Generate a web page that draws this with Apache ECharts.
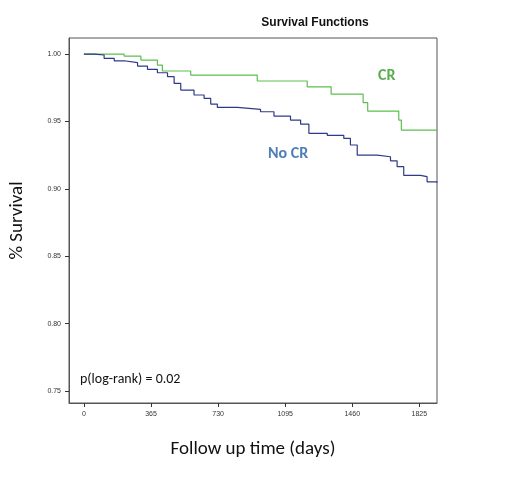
<!DOCTYPE html><html><head><meta charset="utf-8"><script src="https://cdn.jsdelivr.net/npm/echarts@6/dist/echarts.min.js"></script></head><body style="margin:0"><div id="c" style="width:507px;height:483px"></div><script>
const crDays=[0,219,310,400,427,581,943,1215,1345,1519,1544,1713,1727,1921];
const crVals=[1.0,0.9985,0.9955,0.9918,0.9874,0.9844,0.980,0.9757,0.9703,0.9639,0.9577,0.951,0.9436,0.9436];
const nocrDays=[0,56,110,165,219,292,346,400,455,491,527,599,654,690,726,835,961,1034,1124,1179,1224,1324,1414,1450,1487,1595,1668,1704,1740,1831,1867,1921];
const nocrVals=[1.0,0.9993,0.9968,0.995,0.9936,0.9911,0.9886,0.9861,0.9832,0.9782,0.9733,0.9696,0.9671,0.9629,0.9604,0.959,0.9572,0.954,0.951,0.948,0.9412,0.9397,0.9374,0.9325,0.925,0.9238,0.9208,0.9164,0.910,0.909,0.9052,0.9045];
const xTicks=[0,365,730,1095,1460,1825];
const yTicks=[0.75,0.80,0.85,0.90,0.95,1.00];
const z=(a,b)=>a.map((v,i)=>[v,b[i]]);
const ch=echarts.init(document.getElementById('c'));
ch.setOption({animation:false,
title:{text:'Survival Functions',left:310,top:12,textAlign:'center',textStyle:{fontFamily:'Arial',fontSize:12,fontWeight:'bold',color:'#111'}},
grid:{left:68,right:70,top:38,bottom:80,show:true,borderColor:'#555',borderWidth:1},
xAxis:{type:'value',min:-81,max:1921,name:'Follow up time (days)',nameLocation:'middle',nameGap:37,nameTextStyle:{fontFamily:'Calibri, Carlito, Arial',fontSize:19,color:'#111'},
 axisLine:{onZero:false,lineStyle:{color:'#555'}},splitLine:{show:false},
 axisTick:{customValues:xTicks,length:4,lineStyle:{color:'#333'}},
 axisLabel:{customValues:xTicks,fontSize:7,color:'#333',formatter:v=>String(v)}},
yAxis:{type:'value',min:0.7411,max:1.0119,name:'% Survival',nameLocation:'middle',nameGap:42,nameTextStyle:{fontFamily:'Calibri, Carlito, Arial',fontSize:19,color:'#111'},
 axisLine:{show:true,onZero:false,lineStyle:{color:'#555'}},splitLine:{show:false},
 axisTick:{show:true,customValues:yTicks,length:4,lineStyle:{color:'#333'}},
 axisLabel:{customValues:yTicks,fontSize:7,color:'#333',formatter:v=>v.toFixed(2)}},
series:[
{type:'line',step:'end',showSymbol:false,data:z(crDays,crVals),lineStyle:{color:'#5cbf4f',width:1.2}},
{type:'line',step:'end',showSymbol:false,data:z(nocrDays,nocrVals),lineStyle:{color:'#2e3a86',width:1.2}}],
graphic:[
{type:'text',left:378,top:68,style:{text:'CR',fontSize:16,fontWeight:'bold',fill:'#5aad4e',fontFamily:'Calibri, Carlito, Arial'}},
{type:'text',left:268,top:146,style:{text:'No CR',fontSize:16,fontWeight:'bold',fill:'#4f7fb5',fontFamily:'Calibri, Carlito, Arial'}},
{type:'text',left:80,top:372,style:{text:'p(log-rank) = 0.02',fontSize:14,fill:'#111',fontFamily:'Calibri, Carlito, Arial'}}]
});
</script></body></html>
